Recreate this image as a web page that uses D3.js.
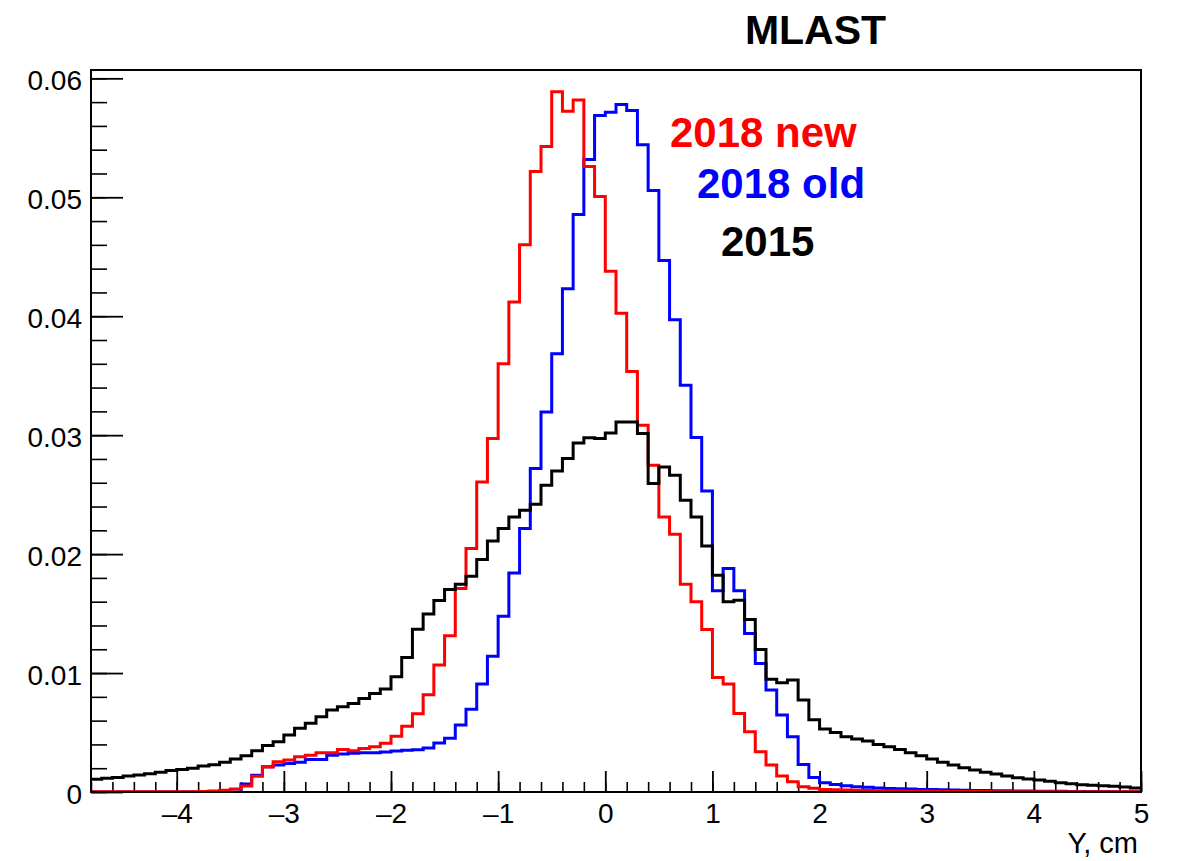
<!DOCTYPE html>
<html>
<head>
<meta charset="utf-8">
<script src="https://cdn.jsdelivr.net/npm/d3@7"></script>
<style>
  html, body { margin: 0; padding: 0; background: #fff; }
  svg { display: block; font-family: "Liberation Sans", Arial, Helvetica, sans-serif; }
</style>
</head>
<body>
<svg id="chart" width="1178" height="861"></svg>
<script>
// ---- Data ----
const binLow = -4.8, binHigh = 5.0, binWidth = 0.1;   // 98 bins
const seriesNames = ["2018 new", "2018 old", "2015"];
const seriesColors = ["#ff0000", "#0000ff", "#000000"];

const red2018new = [
  0.00002,0.00002,0.00002,0.00002,0.00002,0.00002,0.00002,0.00002,0.00002,0.00003,0.00004,
  0.00008,0.00014,0.00025,0.00050,0.00132,0.00210,0.00255,0.00270,0.00297,0.00310,
  0.00330,0.00330,0.00358,0.00347,0.00366,0.00380,0.00409,0.00468,0.00552,0.00658,
  0.00818,0.01067,0.01313,0.01711,0.02047,0.02607,0.02971,0.03601,0.04119,0.04600,
  0.05216,0.05426,0.05888,0.05723,0.05818,0.05258,0.05006,
  0.04379,0.04026,0.03536,0.03083,0.02747,0.02313,0.02167,0.01747,0.01599,0.01367,
  0.00963,0.00907,0.00661,0.00507,0.00339,0.00227,0.00134,0.00087,0.00045,0.00031,
  0.00022,0.00018,0.00016,0.00014,0.00012,0.00010,0.00009,0.00008,0.00007,0.00006,
  0.00006,0.00005,0.00005,0.00004,0.00004,0.00004,0.00003,0.00003,0.00003,0.00003,
  0.00002,0.00002,0.00002,0.00002,0.00002,0.00002,0.00002,0.00002,0.00002,0.00002
];

const blue2018old = [
  0.00001,0.00001,0.00001,0.00001,0.00001,0.00001,0.00001,0.00001,0.00001,0.00001,
  0.00001,0.00001,0.00001,0.00001,
  0.00067,0.00140,0.00212,0.00227,0.00240,0.00250,0.00274,0.00274,0.00310,0.00320,
  0.00325,0.00330,0.00330,0.00337,0.00345,0.00350,0.00356,0.00370,0.00412,0.00451,
  0.00563,0.00695,0.00907,0.01142,0.01478,0.01842,0.02215,0.02719,0.03195,0.03685,
  0.04231,0.04855,0.05317,0.05687,
  0.05714,0.05779,0.05729,0.05441,0.05057,0.04469,0.03970,0.03419,0.02980,0.02531,
  0.01691,0.01879,0.01691,0.01333,0.01081,0.00857,0.00647,0.00465,0.00232,0.00122,
  0.00078,0.00063,0.00052,0.00045,0.00040,0.00034,0.00030,0.00028,0.00025,0.00022,
  0.00020,0.00018,0.00016,0.00014,0.00013,0.00012,0.00011,0.00010,0.00009,0.00008,
  0.00007,0.00006,0.00006,0.00005,0.00005,0.00004,0.00004,0.00003,0.00003,0.00003
];

const black2015 = [
  0.00107,0.00115,0.00121,0.00134,0.00143,0.00154,0.00165,0.00180,0.00190,0.00200,
  0.00218,0.00230,0.00250,0.00277,0.00305,0.00347,0.00390,0.00423,0.00479,0.00535,
  0.00577,0.00633,0.00689,0.00717,0.00745,0.00787,0.00829,0.00866,0.00969,0.01131,
  0.01369,0.01496,0.01610,0.01702,0.01747,0.01814,0.01954,0.02111,0.02215,0.02313,
  0.02369,0.02419,0.02579,0.02699,0.02803,0.02934,0.02979,0.02971,
  0.03018,0.03110,0.03110,0.03013,0.02593,0.02733,0.02663,0.02453,0.02313,0.02069,
  0.01823,0.01599,0.01613,0.01451,0.01199,0.00947,0.00918,0.00941,0.00773,0.00608,
  0.00530,0.00500,0.00465,0.00445,0.00428,0.00400,0.00380,0.00358,0.00330,0.00305,
  0.00277,0.00250,0.00227,0.00204,0.00185,0.00165,0.00151,0.00134,0.00120,0.00109,
  0.00100,0.00090,0.00078,0.00070,0.00062,0.00056,0.00053,0.00048,0.00042,0.00034
];

const xMajorTicks = [-4, -3, -2, -1, 0, 1, 2, 3, 4, 5];
const yMajorTicks = [0, 0.01, 0.02, 0.03, 0.04, 0.05, 0.06];
const yTickLabels = ["0", "0.01", "0.02", "0.03", "0.04", "0.05", "0.06"];
const titleText = "MLAST";
const xAxisTitle = "Y, cm";

// ---- Layout ----
const svg = d3.select("#chart");
const L = 91, R = 1141, T = 70, B = 792;
const x = d3.scaleLinear().domain([binLow, binHigh]).range([L, R]);
const y = d3.scaleLinear().domain([0, 0.0607]).range([B, T]);

svg.append("defs").append("clipPath").attr("id", "clip")
  .append("rect").attr("x", L).attr("y", T).attr("width", R - L).attr("height", B - T);

const nBins = Math.round((binHigh - binLow) / binWidth);
const edges = d3.range(nBins + 1).map(i => binLow + i * binWidth);

function histPoints(vals) {
  const pts = vals.map((v, i) => [edges[i], v]);
  pts.push([edges[vals.length], vals[vals.length - 1]]);
  return pts;
}
const line = d3.line().x(d => x(d[0])).y(d => y(d[1])).curve(d3.curveStepAfter);

// ---- Axes ----
const fontSize = 28;
// x minor ticks
const xMinor = d3.range(-4.8, 5.0001, 0.2).map(v => Math.round(v * 10) / 10);
svg.append("g").attr("transform", `translate(0,${B})`)
  .call(d3.axisBottom(x).tickValues(xMinor).tickSize(-10).tickFormat(""))
  .call(g => g.select(".domain").remove())
  .call(g => g.selectAll("line").attr("stroke", "#000").attr("stroke-width", 1.6));
// x major ticks
svg.append("g").attr("transform", `translate(0,${B})`)
  .call(d3.axisBottom(x).tickValues(xMajorTicks).tickSize(-21).tickPadding(11)
    .tickFormat(d => d < 0 ? "\u2013" + Math.abs(d) : String(d)))
  .call(g => g.select(".domain").remove())
  .call(g => g.selectAll("line").attr("stroke", "#000").attr("stroke-width", 1.8))
  .call(g => g.selectAll("text").attr("font-size", fontSize).attr("fill", "#000")
    .attr("font-family", "Liberation Sans, Arial, sans-serif"));

// y minor ticks
const yMinor = d3.range(0, 0.0601, 0.002);
svg.append("g").attr("transform", `translate(${L},0)`)
  .call(d3.axisLeft(y).tickValues(yMinor).tickSize(-16).tickFormat(""))
  .call(g => g.select(".domain").remove())
  .call(g => g.selectAll("line").attr("stroke", "#000").attr("stroke-width", 1.6));
// y major ticks
svg.append("g").attr("transform", `translate(${L},0)`)
  .call(d3.axisLeft(y).tickValues(yMajorTicks).tickSize(-32).tickPadding(9)
    .tickFormat((d, i) => yTickLabels[i]))
  .call(g => g.select(".domain").remove())
  .call(g => g.selectAll("line").attr("stroke", "#000").attr("stroke-width", 1.8))
  .call(g => g.selectAll("text").attr("font-size", fontSize).attr("fill", "#000")
    .attr("dy", "0.4em").attr("font-family", "Liberation Sans, Arial, sans-serif"));

// ---- Histograms ----
const plot = svg.append("g").attr("clip-path", "url(#clip)");
const drawOrder = [
  { vals: blue2018old, color: seriesColors[1] },
  { vals: red2018new, color: seriesColors[0] },
  { vals: black2015, color: seriesColors[2] }
];
drawOrder.forEach(s => {
  plot.append("path")
    .attr("d", line(histPoints(s.vals)))
    .attr("fill", "none")
    .attr("stroke", s.color)
    .attr("stroke-width", 3)
    .attr("stroke-linejoin", "miter")
    .attr("stroke-linecap", "butt");
});

// ---- Frame ----
svg.append("rect").attr("x", L).attr("y", T).attr("width", R - L).attr("height", B - T)
  .attr("fill", "none").attr("stroke", "#000").attr("stroke-width", 2);

// ---- Texts ----
svg.append("text").attr("x", 815.5).attr("y", 43.5).attr("text-anchor", "middle")
  .attr("font-size", 41).attr("font-weight", "bold").attr("fill", "#000").text(titleText);

svg.append("text").attr("x", 1138).attr("y", 853).attr("text-anchor", "end")
  .attr("font-size", 29).attr("fill", "#000").text(xAxisTitle);

const legendPos = [[670, 147], [697, 198], [721, 256]];
seriesNames.forEach((name, i) => {
  svg.append("text").attr("x", legendPos[i][0]).attr("y", legendPos[i][1])
    .attr("font-size", 42).attr("font-weight", "bold")
    .attr("fill", seriesColors[i]).text(name);
});
</script>
</body>
</html>
